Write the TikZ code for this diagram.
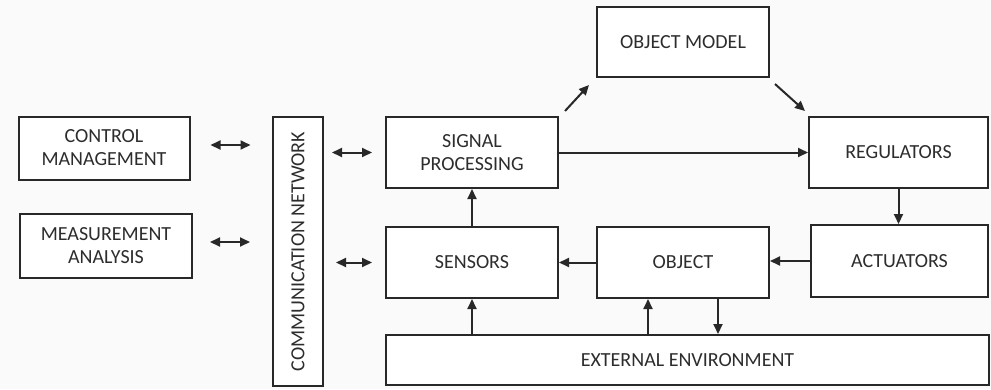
\documentclass[tikz,border=0pt]{standalone}
\usepackage{fontspec}
\setmainfont{Carlito}
\usetikzlibrary{arrows.meta,calc}
\definecolor{ink}{RGB}{40,40,40}
\definecolor{txt}{RGB}{45,45,45}
\definecolor{bg}{RGB}{250,250,250}
\begin{document}
\begin{tikzpicture}[x=1pt,y=-1pt,
  box/.style={draw=ink,line width=2pt,fill=white,inner sep=0pt,align=center,text=txt,
    font=\fontsize{20}{23}\selectfont},
  arr/.style={draw=ink,line width=2pt,-{Triangle[length=10pt,width=9pt]}},
  darr/.style={draw=ink,line width=2pt,{Triangle[length=10pt,width=9pt]}-{Triangle[length=10pt,width=9pt]}}]
\fill[bg] (0,0) rectangle (991,389);
\useasboundingbox (0,0) rectangle (991,389);
\node[box,minimum width=171,minimum height=63] (cm) at (104,148) {CONTROL\\MANAGEMENT};
\node[box,minimum width=172,minimum height=64] (ma) at (106,246) {MEASUREMENT\\ANALYSIS};
\node[box,rotate=90,minimum width=269,minimum height=50] (cn) at (298,251.5) {COMMUNICATION NETWORK};
\node[box,minimum width=172,minimum height=71] (sp) at (472,152.5) {SIGNAL\\PROCESSING};
\node[box,minimum width=172,minimum height=70] (om) at (683,42) {OBJECT MODEL};
\node[box,minimum width=179,minimum height=71] (reg) at (898.5,152.5) {REGULATORS};
\node[box,minimum width=172,minimum height=71] (sen) at (472,262.5) {SENSORS};
\node[box,minimum width=172,minimum height=71] (obj) at (683,262.5) {OBJECT};
\node[box,minimum width=177,minimum height=72] (act) at (899.5,261) {ACTUATORS};
\node[box,minimum width=603,minimum height=50] (env) at (687.5,360) {EXTERNAL ENVIRONMENT};
\coordinate (o1) at ($(obj.south)+(-35,0)$);
\coordinate (o2) at ($(obj.south)+(35,0)$);
% double arrows to/from network
\draw[darr] ($(cm.east)+(20,-3)$) -- ($(cm.east)+(60,-3)$);
\draw[darr] ($(ma.east)+(17,-4)$) -- ($(ma.east)+(57,-4)$);
\draw[darr] ($(sp.west)+(-53,0)$) -- ($(sp.west)+(-13,0)$);
\draw[darr] ($(sen.west)+(-49,0)$) -- ($(sen.west)+(-13,0)$);
% signal flow
\draw[arr] ($(sp.north east)+(6,-5)$) -- ($(om.south west)+(-7,7)$);
\draw[arr] ($(om.south east)+(5,6)$) -- ($(reg.north west)+(-3,-5)$);
\draw[arr] (sp.east) -- (reg.west |- sp.east);
\draw[arr] (reg.south) -- (reg.south |- act.north);
\draw[arr] (act.west) -- (obj.east |- act.west);
\draw[arr] (obj.west) -- (sen.east);
\draw[arr] (sen.north) -- (sp.south);
\draw[arr] (sen.south |- env.north) -- (sen.south);
\draw[arr] (o1 |- env.north) -- (o1);
\draw[arr] (o2) -- (o2 |- env.north);
\end{tikzpicture}
\end{document}
